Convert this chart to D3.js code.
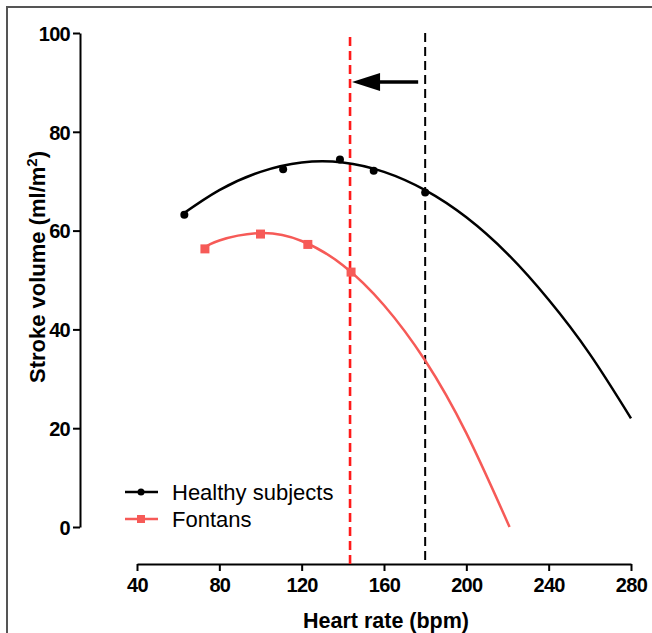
<!DOCTYPE html>
<html><head><meta charset="utf-8">
<script src="https://cdn.jsdelivr.net/npm/d3@7"></script>
<style>
body{margin:0;background:#fff;}
svg{display:block;font-family:"Liberation Sans",Arial,sans-serif;}
</style></head>
<body><svg id="c" width="652" height="633"></svg>
<script>
// Data
const xTicks = [40, 80, 120, 160, 200, 240, 280];
const yTicks = [0, 20, 40, 60, 80, 100];
const healthyPtsX = [63, 111, 138.6, 155, 180];
const healthyPtsY = [63.2, 72.4, 74.4, 72.1, 67.7];
const fontanPtsX = [73, 100, 123, 144];
const fontanPtsY = [56.3, 59.3, 57.2, 51.6];
const healthyCurveX = [62, 80, 100, 120, 140, 160, 180, 200, 220, 240, 260, 280];
const healthyCurveY = [63.3, 68.2, 71.9, 73.8, 73.8, 71.9, 68.2, 62.7, 55.3, 46.0, 35.0, 22.0];
const fontanCurveX = [72, 80, 100, 120, 140, 160, 180, 200, 221];
const fontanCurveY = [56.3, 58.0, 59.5, 57.9, 53.0, 44.9, 33.7, 19.0, 0];
const refLineX = [180, 143.5]; // healthy max HR, Fontan max HR
const seriesNames = ["Healthy subjects", "Fontans"];

const BLACK = "#000", SALMON = "#f65a57", RED = "#ff1a1a";
const svg = d3.select("#c");

// frame
svg.append("path").attr("d", "M7,633 V7 H652").attr("fill", "none").attr("stroke", "#555").attr("stroke-width", 2);

const x = d3.scaleLinear().domain([40, 280]).range([137, 631]);
const y = d3.scaleLinear().domain([0, 100]).range([527, 33]);

// y axis
const ya = svg.append("g").attr("transform", "translate(80,0)")
  .call(d3.axisLeft(y).tickValues(yTicks).tickSize(7).tickPadding(3).tickSizeOuter(0));
// x axis
const xa = svg.append("g").attr("transform", "translate(0,564)")
  .call(d3.axisBottom(x).tickValues(xTicks).tickSize(7).tickPadding(7).tickSizeOuter(0));
[ya, xa].forEach(a => {
  a.select(".domain").attr("stroke", BLACK).attr("stroke-width", 2);
  a.selectAll(".tick line").attr("stroke", BLACK).attr("stroke-width", 2);
  a.selectAll(".tick text").attr("fill", BLACK).attr("font-size", 20).attr("font-weight", "bold")
    .attr("letter-spacing", "-0.7px")
    .attr("font-family", "Liberation Sans, Arial, sans-serif");
});
ya.selectAll(".tick text").attr("dy", "0.36em");

// axis titles
svg.append("text").attr("x", 386).attr("y", 628).attr("text-anchor", "middle")
  .attr("font-size", 21.5).attr("font-weight", "bold").text("Heart rate (bpm)");
const yt = svg.append("text").attr("transform", "translate(45,267) rotate(-90)").attr("text-anchor", "middle")
  .attr("font-size", 22).attr("font-weight", "bold");
yt.append("tspan").text("Stroke volume (ml/m");
yt.append("tspan").attr("font-size", 15).attr("dy", -8).text("2");
yt.append("tspan").attr("dy", 8).text(")");

// reference dashed lines
svg.append("line").attr("x1", x(refLineX[0])).attr("x2", x(refLineX[0])).attr("y1", y(100)).attr("y2", 564)
  .attr("stroke", BLACK).attr("stroke-width", 2).attr("stroke-dasharray", "9,5");
svg.append("line").attr("x1", x(refLineX[1])).attr("x2", x(refLineX[1])).attr("y1", y(100) + 4).attr("y2", 564)
  .attr("stroke", RED).attr("stroke-width", 2.6).attr("stroke-dasharray", "9,5");

// arrow
const ay = 82;
svg.append("line").attr("x1", x(refLineX[0]) - 7).attr("x2", x(refLineX[1]) + 26).attr("y1", ay).attr("y2", ay)
  .attr("stroke", BLACK).attr("stroke-width", 3.5);
const tip = x(refLineX[1]) + 2;
svg.append("path").attr("d", `M${tip},${ay} L${tip + 28},${ay - 9} L${tip + 28},${ay + 9} Z`).attr("fill", BLACK);

// curves
const line = d3.line().x(d => x(d[0])).y(d => y(d[1])).curve(d3.curveNatural);
svg.append("path").datum(healthyCurveX.map((v, i) => [v, healthyCurveY[i]]))
  .attr("d", line).attr("fill", "none").attr("stroke", BLACK).attr("stroke-width", 2.5);
svg.append("path").datum(fontanCurveX.map((v, i) => [v, fontanCurveY[i]]))
  .attr("d", line).attr("fill", "none").attr("stroke", SALMON).attr("stroke-width", 2.5);

// points
svg.append("g").selectAll("circle").data(healthyPtsX.map((v, i) => [v, healthyPtsY[i]])).join("circle")
  .attr("cx", d => x(d[0])).attr("cy", d => y(d[1])).attr("r", 4).attr("fill", BLACK);
svg.append("g").selectAll("rect").data(fontanPtsX.map((v, i) => [v, fontanPtsY[i]])).join("rect")
  .attr("x", d => x(d[0]) - 4.5).attr("y", d => y(d[1]) - 4.5).attr("width", 9).attr("height", 9).attr("fill", SALMON);

// legend
const leg = svg.append("g");
[[BLACK, 492], [SALMON, 519]].forEach((c, i) => {
  leg.append("line").attr("x1", 125).attr("x2", 158).attr("y1", c[1]).attr("y2", c[1]).attr("stroke", c[0]).attr("stroke-width", 2.5);
  if (i === 0) leg.append("circle").attr("cx", 141).attr("cy", c[1]).attr("r", 3.5).attr("fill", c[0]);
  else leg.append("rect").attr("x", 137).attr("y", c[1] - 4).attr("width", 8).attr("height", 8).attr("fill", c[0]);
  leg.append("text").attr("x", 172).attr("y", c[1] + 7.5).attr("font-size", 22).attr("fill", BLACK).text(seriesNames[i]);
});
</script></body></html>
